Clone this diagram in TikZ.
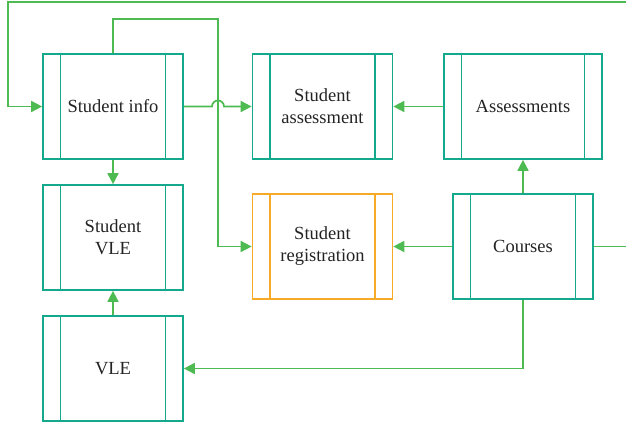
\documentclass[tikz,border=0pt]{standalone}
\usepackage{fontspec}
\setmainfont{Liberation Serif}
\usetikzlibrary{arrows.meta}
\definecolor{boxteal}{RGB}{20,168,140}
\definecolor{boxorange}{RGB}{246,170,40}
\definecolor{flowgreen}{RGB}{78,186,82}
\definecolor{txtgray}{RGB}{35,35,35}

\begin{document}
\begin{tikzpicture}[x=1pt, y=-1pt,
    table/.style={draw=boxteal, line width=1.7pt, minimum width=140pt, minimum height=105pt,
        align=center, text=txtgray, font=\fontsize{18.5}{22}\selectfont,
        path picture={
            \draw[line width=1.7pt] ([xshift=17.5pt]path picture bounding box.north west) -- ([xshift=17.5pt]path picture bounding box.south west);
            \draw[line width=1.7pt] ([xshift=-17.5pt]path picture bounding box.north east) -- ([xshift=-17.5pt]path picture bounding box.south east);
        }},
    flow/.style={draw=flowgreen, line width=1.7pt, -{Triangle[length=11pt,width=11pt]}}]
    \useasboundingbox (0,0) rectangle (626,424);

    % Boxes
    \node [table] (info) at (113,106.5) {Student info};
    \node [table] (assess) at (322.5,106.5) {Student\\assessment};
    \node [table, minimum width=158pt] (assessments) at (523,106.5) {Assessments};
    \node [table] (svle) at (113,237.5) {Student\\VLE};
    \node [table, draw=boxorange] (reg) at (322.5,246.5) {Student\\registration};
    \node [table] (courses) at (523,246.5) {Courses};
    \node [table] (vle) at (113,368.5) {VLE};

    % Arrows
    \draw [flow] (info.east) -- (212,106.5) arc[start angle=180, end angle=0, radius=6pt] -- (assess.west);
    \draw [flow] (assessments.west) -- (assess.east);
    \draw [flow] (courses.north) -- (assessments.south);
    \draw [flow] (courses.west) -- (reg.west -| reg.east);
    \draw [flow] (info.north) |- (218,19) |- (reg.west);
    \draw [flow] (info.south) -- (svle.north);
    \draw [flow] (vle.north) -- (svle.south);
    \draw [flow] (courses.south) |- (vle.east);
    \draw [flow] (courses.east) -- (634,246.5) |- (8,2) |- (info.west);
\end{tikzpicture}
\end{document}
